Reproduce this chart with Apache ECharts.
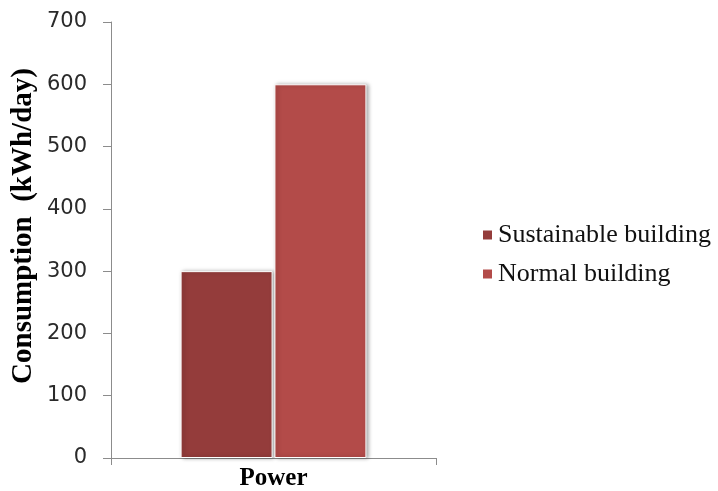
<!DOCTYPE html>
<html>
<head>
<meta charset="utf-8">
<script src="https://cdn.jsdelivr.net/npm/echarts@6/dist/echarts.min.js"></script>
<style>html,body{margin:0;padding:0;background:#fff}#c{width:718px;height:491px}</style>
</head>
<body>
<div id="c"></div>
<script>
var categories = ['Power'];
var seriesNames = ['Sustainable building', 'Normal building'];
var sustainable = [300];
var normal = [600];
var yTicks = { min: 0, max: 700, interval: 100 };

var chart = echarts.init(document.getElementById('c'));
var barStyle = function (color) {
  return {
    color: color,
    borderColor: '#ffffff',
    borderWidth: 1,
    shadowColor: 'rgba(0,0,0,0.35)',
    shadowBlur: 4,
    shadowOffsetX: 2,
    shadowOffsetY: 0
  };
};
chart.setOption({
  animation: false,
  grid: { left: 111, right: 282, top: 22, bottom: 31 },
  legend: {
    orient: 'vertical',
    left: 476,
    top: 217,
    itemWidth: 11,
    itemHeight: 11,
    itemGap: 13,
    icon: 'rect',
    textStyle: { fontFamily: 'Liberation Serif', fontSize: 26, color: '#111' },
    data: seriesNames
  },
  xAxis: {
    type: 'category',
    data: categories,
    axisLine: { lineStyle: { color: '#8c8c8c', width: 1 } },
    axisTick: { show: true, length: 7, lineStyle: { color: '#8c8c8c' } },
    axisLabel: { fontFamily: 'Liberation Serif', fontWeight: 'bold', fontSize: 25, color: '#000', margin: 8 }
  },
  yAxis: {
    type: 'value',
    min: yTicks.min,
    max: yTicks.max,
    interval: yTicks.interval,
    name: 'Consumption  (kWh/day)',
    nameLocation: 'middle',
    nameGap: 73,
    nameTextStyle: { fontFamily: 'Liberation Serif', fontWeight: 'bold', fontSize: 29, color: '#000', padding: [0, 0, 0, 28] },
    axisLine: { show: true, lineStyle: { color: '#8c8c8c', width: 1 } },
    axisTick: { show: true, length: 8, lineStyle: { color: '#8c8c8c' } },
    splitLine: { show: false },
    axisLabel: { fontFamily: 'DejaVu Sans', fontSize: 21, color: '#2a2a2a', margin: 24 }
  },
  series: [
    { name: seriesNames[0], type: 'bar', data: sustainable, barWidth: 92, barGap: '2%', itemStyle: barStyle('#943c3b') },
    { name: seriesNames[1], type: 'bar', data: normal, barWidth: 92, barGap: '2%', itemStyle: barStyle('#b34b49') }
  ]
});
</script>
</body>
</html>
